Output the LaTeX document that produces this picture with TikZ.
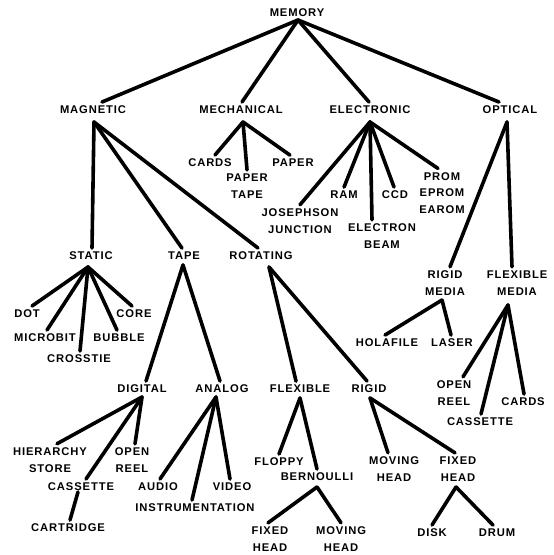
\documentclass[tikz,border=0pt]{standalone}
\usepackage{fontspec}
\newfontfamily\labfont[LetterSpace=8]{Liberation Sans}
\begin{document}
\begin{tikzpicture}[x=0.75pt,y=-0.75pt,
  lbl/.style={font={\labfont\bfseries\fontsize{8.4pt}{12.4pt}\selectfont},
    align=center, inner sep=0pt, outer sep=3pt},
  link/.style={line width=2.7pt, line cap=round}]
\useasboundingbox (0,0) rectangle (553,555);
% labels
\node[lbl] (mem) at (297,13) {MEMORY};
\node[lbl] (mag) at (93,110) {MAGNETIC};
\node[lbl] (mech) at (241,110) {MECHANICAL};
\node[lbl] (elec) at (370,110) {ELECTRONIC};
\node[lbl] (opt) at (510,110) {OPTICAL};
\node[lbl] (cards) at (210,163) {CARDS};
\node[lbl] (ptape) at (247,186) {PAPER\\TAPE};
\node[lbl] (paper) at (293,163) {PAPER};
\node[lbl] (jos) at (300,221) {JOSEPHSON\\JUNCTION};
\node[lbl] (ram) at (344,195) {RAM};
\node[lbl] (ebeam) at (382,236) {ELECTRON\\BEAM};
\node[lbl] (ccd) at (395,195) {CCD};
\node[lbl] (prom) at (442,193) {PROM\\EPROM\\EAROM};
\node[lbl] (stat) at (91,256) {STATIC};
\node[lbl] (tape) at (184,256) {TAPE};
\node[lbl] (rot) at (261,256) {ROTATING};
\node[lbl] (rmed) at (445,283) {RIGID\\MEDIA};
\node[lbl] (fmed) at (517,283) {FLEXIBLE\\MEDIA};
\node[lbl] (dot) at (27,314) {DOT};
\node[lbl] (micro) at (45,338) {MICROBIT};
\node[lbl] (cross) at (79,359) {CROSSTIE};
\node[lbl] (bubble) at (119,338) {BUBBLE};
\node[lbl] (core) at (134,314) {CORE};
\node[lbl] (hola) at (387,343) {HOLAFILE};
\node[lbl] (laser) at (452,343) {LASER};
\node[lbl] (oreelb) at (454,393) {OPEN\\REEL};
\node[lbl] (cassb) at (480,422) {CASSETTE};
\node[lbl] (cardsb) at (523,402) {CARDS};
\node[lbl] (dig) at (142,389) {DIGITAL};
\node[lbl] (ana) at (222,389) {ANALOG};
\node[lbl] (flex) at (300,389) {FLEXIBLE};
\node[lbl] (rig) at (369,389) {RIGID};
\node[lbl] (hier) at (50,460) {HIERARCHY\\STORE};
\node[lbl] (oreel) at (132,460) {OPEN\\REEL};
\node[lbl] (cass) at (81,487) {CASSETTE};
\node[lbl] (cart) at (68,528) {CARTRIDGE};
\node[lbl] (audio) at (158,487) {AUDIO};
\node[lbl] (instr) at (195,508) {INSTRUMENTATION};
\node[lbl] (video) at (232,487) {VIDEO};
\node[lbl] (floppy) at (279,462) {FLOPPY};
\node[lbl] (bern) at (317,477) {BERNOULLI};
\node[lbl] (fixa) at (270,539) {FIXED\\HEAD};
\node[lbl] (mova) at (341,539) {MOVING\\HEAD};
\node[lbl] (movb) at (394,469) {MOVING\\HEAD};
\node[lbl] (fixb) at (458,469) {FIXED\\HEAD};
\node[lbl] (disk) at (432,533) {DISK};
\node[lbl] (drum) at (497,533) {DRUM};
% junctions
\coordinate (memJ) at (298,20);
\coordinate (magJ) at (94,122);
\coordinate (mechJ) at (243,122);
\coordinate (elecJ) at (370,122);
\coordinate (optJ) at (507,122);
\coordinate (rmedJ) at (442,300);
\coordinate (fmedJ) at (508,305);
\coordinate (statJ) at (88,267);
\coordinate (tapeJ) at (183,265);
\coordinate (rotJ) at (269,267);
\coordinate (digJ) at (142,397);
\coordinate (cassJ) at (78,492);
\coordinate (anaJ) at (216,397);
\coordinate (flexJ) at (300,398);
\coordinate (bernJ) at (317,487);
\coordinate (rigJ) at (370,398);
\coordinate (fixbJ) at (456,487);
% connectors
\draw[link] (memJ) -- ([shift={(9,0)}]mag.north);
\draw[link] (memJ) -- ([shift={(1,0)}]mech.north);
\draw[link] (memJ) -- ([shift={(-1,0)}]elec.north);
\draw[link] (memJ) -- ([shift={(-11,0)}]opt.north);
\draw[link] (magJ) -- ([shift={(1,0)}]stat.north);
\draw[link] (magJ) -- ([shift={(-2,0)}]tape.north);
\draw[link] (magJ) -- ([shift={(-3,0)}]rot.north);
\draw[link] (mechJ) -- ([shift={(5,0)}]cards.north);
\draw[link] (mechJ) -- (ptape.north);
\draw[link] (mechJ) -- ([shift={(-3,0)}]paper.north);
\draw[link] (elecJ) -- (jos.north);
\draw[link] (elecJ) -- (ram.north);
\draw[link] (elecJ) -- ([shift={(-10,0)}]ebeam.north);
\draw[link] (elecJ) -- ([shift={(-1,0)}]ccd.north);
\draw[link] (elecJ) -- ([shift={(-4,0)}]prom.north);
\draw[link] (optJ) -- ([shift={(5,0)}]rmed.north);
\draw[link] (optJ) -- ([shift={(-5,0)}]fmed.north);
\draw[link] (rmedJ) -- ([shift={(-2,0)}]hola.north);
\draw[link] (rmedJ) -- ([shift={(-1,0)}]laser.north);
\draw[link] (fmedJ) -- ([shift={(9,0)}]oreelb.north);
\draw[link] (fmedJ) -- ([shift={(1,0)}]cassb.north);
\draw[link] (fmedJ) -- ([shift={(1,0)}]cardsb.north);
\draw[link] (statJ) -- ([shift={(5,0)}]dot.north);
\draw[link] (statJ) -- ([shift={(2,0)}]micro.north);
\draw[link] (statJ) -- ([shift={(1,0)}]cross.north);
\draw[link] (statJ) -- ([shift={(-2,0)}]bubble.north);
\draw[link] (statJ) -- ([shift={(-2,0)}]core.north);
\draw[link] (tapeJ) -- ([shift={(4,0)}]dig.north);
\draw[link] (tapeJ) -- ([shift={(-2,0)}]ana.north);
\draw[link] (rotJ) -- ([shift={(-4,0)}]flex.north);
\draw[link] (rotJ) -- ([shift={(-2,0)}]rig.north);
\draw[link] (digJ) -- ([shift={(7,0)}]hier.north);
\draw[link] (digJ) -- ([shift={(3,0)}]oreel.north);
\draw[link] (digJ) -- ([shift={(5,0)}]cass.north);
\draw[link] (cassJ) -- ([shift={(2,0)}]cart.north);
\draw[link] (anaJ) -- ([shift={(2,0)}]audio.north);
\draw[link] (anaJ) -- ([shift={(-3,0)}]instr.north);
\draw[link] (anaJ) -- ([shift={(-2,0)}]video.north);
\draw[link] (flexJ) -- (floppy.north);
\draw[link] (flexJ) -- (bern.north);
\draw[link] (bernJ) -- ([shift={(-2,0)}]fixa.north);
\draw[link] (bernJ) -- (mova.north);
\draw[link] (rigJ) -- ([shift={(-6,0)}]movb.north);
\draw[link] (rigJ) -- ([shift={(-3,0)}]fixb.north);
\draw[link] (fixbJ) -- (disk.north);
\draw[link] (fixbJ) -- ([shift={(-4,0)}]drum.north);
\end{tikzpicture}
\end{document}
